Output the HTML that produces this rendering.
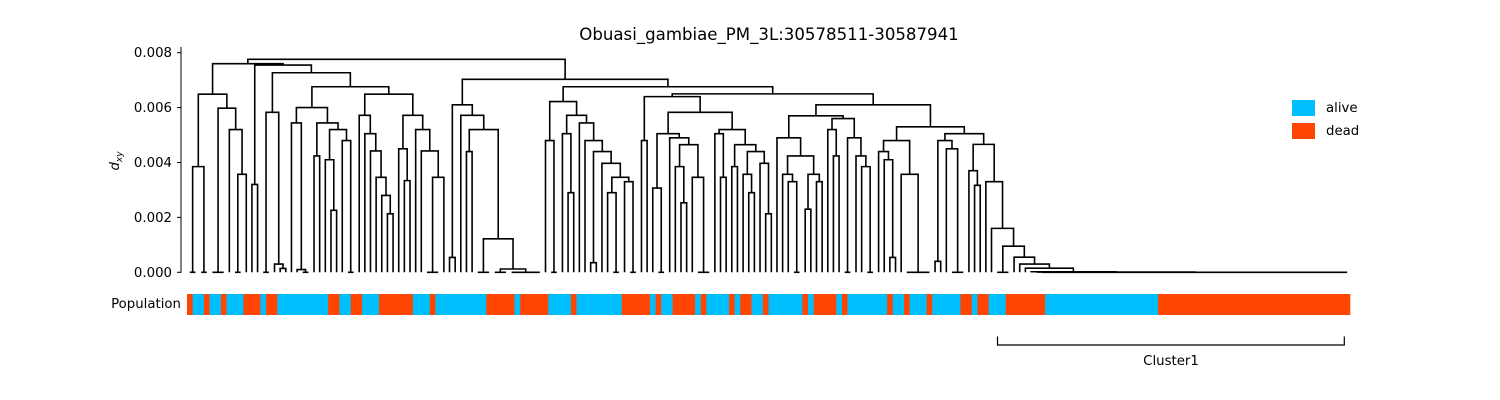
<!DOCTYPE html>
<html><head><meta charset="utf-8"><style>
body{margin:0;background:#fff;}
svg{display:block;font-family:"DejaVu Sans","Liberation Sans",sans-serif;}
</style></head><body>
<svg id="chart" width="1500" height="400" viewBox="0 0 1500 400" xmlns="http://www.w3.org/2000/svg">
<rect x="0" y="0" width="1500" height="400" fill="#fff"/>
<text x="769" y="40" font-size="16.6" text-anchor="middle" fill="#000">Obuasi_gambiae_PM_3L:30578511-30587941</text>
<g id="axis"></g>
<g id="tree" fill="none" stroke="#000" stroke-width="1.6"></g>
<g id="popbar"></g>
<text x="181" y="308" font-size="13.3" text-anchor="end" fill="#000">Population</text>
<g>
<rect x="1292" y="100" width="23" height="16" fill="#00BFFF"/>
<text x="1326" y="112" font-size="13.3" fill="#000">alive</text>
<rect x="1292" y="123" width="23" height="16" fill="#FF4500"/>
<text x="1326" y="135" font-size="13.3" fill="#000">dead</text>
</g>
<g>
<path d="M997.5,336.5 V345 H1344.3 V336.5" fill="none" stroke="#000" stroke-width="1.2"/>
<text x="1171" y="365" font-size="13.3" text-anchor="middle" fill="#000">Cluster1</text>
</g>
</svg>
<script>
// y ticks (units of 1e-3)
const yTicks = [0, 2, 4, 6, 8];
const yTickLabels = ["0.000", "0.002", "0.004", "0.006", "0.008"];
// population run lengths, alternating starting with dead
const popLabels = ["dead","alive","dead","alive","dead","alive","dead","alive","dead","alive","dead","alive","dead","alive","dead","alive","dead","alive","dead","alive","dead","alive","dead","alive","dead","alive","dead","alive","dead","alive","dead","alive","dead","alive","dead","alive","dead","alive","dead","alive","dead","alive","dead","alive","dead","alive","dead","alive","dead","alive","dead","alive","dead","alive","dead","alive","dead"];
const popCounts = [1,2,1,2,1,3,3,1,2,9,2,2,2,3,6,3,1,9,5,1,5,4,1,8,5,1,1,2,4,1,1,4,1,1,2,2,1,6,1,1,4,1,1,7,1,2,1,3,1,5,2,1,2,3,7,20,34];
// dendrogram: [height(1e-3), left, right]; integer = zero-height clump of n leaves
const treeLeft = [7.6,
  [6.49,[3.85,2,2],[5.98,3,[5.2,1,[3.57,2,1]]]],
  [7.55,[3.2,1,1],
    [7.27,
      [5.83,2,[0.3,1,[0.14,1,1]]],
      [6.76,
        [6.0,[5.44,1,[0.1,1,2]],[5.44,[4.24,1,1],[5.2,[4.1,1,[2.26,1,1]],[4.8,1,2]]]],
        [6.49,
          [5.72,1,[5.05,1,[4.42,1,[3.46,1,[2.8,1,[2.13,1,1]]]]]],
          [5.72,[4.5,1,[3.34,1,1]],[5.2,1,[4.42,1,[3.46,3,1]]]]]]]]];
const tailChain = [0.15,1,[0.02,1,[0.01,1,55]]];
const subW = [4.66,[3.7,1,[3.17,1,1]],[3.3,1,[1.6,1,[0.95,3,[0.55,1,[0.3,1,tailChain]]]]]];
const subV2 = [5.05,[4.8,[0.4,1,1],[4.5,1,3]],subW];
const subV1 = [4.8,[4.4,1,[4.1,1,[0.54,1,1]]],[3.57,1,5]];
const subU1 = [4.9,1,[4.24,[3.57,1,[3.3,1,2]],[3.57,[2.3,1,1],[3.3,1,1]]]];
const subU2 = [5.6,[5.2,1,[4.24,1,1]],[4.9,2,[4.24,1,[3.85,1,2]]]];
const subT1a = [5.05,[3.07,1,2],[4.9,1,[4.65,[3.85,1,[2.53,1,1]],[3.46,1,3]]]];
const subT1b = [5.2,[5.05,1,[3.46,1,1]],[4.65,[3.85,1,1],[4.4,[3.57,1,[2.9,1,1]],[3.97,1,[2.13,1,1]]]]];
const subS = [6.22,[4.8,1,2],[5.72,[5.05,1,[2.9,1,1]],[5.44,1,[4.8,1,[4.4,[0.35,1,1],[3.97,1,[3.46,[2.9,1,2],[3.3,1,2]]]]]]]];
const subR1 = [6.1,[0.54,1,1],[5.72,1,[5.2,[4.4,1,1],[1.22,3,[0.12,3,6]]]]];
const treeRight = [7.03, subR1,
  [6.76, subS,
    [6.5, [6.4,[4.8,1,1],[5.83, subT1a, subT1b]],
      [6.1, [5.7, subU1, subU2], [5.3, subV1, subV2]]]]];
const rootHeight = 7.76;

const NS = "http://www.w3.org/2000/svg";
const X0 = 187, X1 = 1350;
function countLeaves(n){ return typeof n === "number" ? n : countLeaves(n[1]) + countLeaves(n[2]); }
const N = countLeaves(treeLeft) + countLeaves(treeRight);
const W = (X1 - X0) / N;
function xLeaf(i){ return X0 + (i + 0.5) * W; }
function yScale(h){ return 272.3 - h * 27.45; }

// axis
const ax = document.getElementById("axis");
const spine = document.createElementNS(NS, "line");
spine.setAttribute("x1", 181); spine.setAttribute("x2", 181);
spine.setAttribute("y1", 47); spine.setAttribute("y2", 272.8);
spine.setAttribute("stroke", "#000"); spine.setAttribute("stroke-width", "1");


ax.appendChild(spine);
yTicks.forEach((t, i) => {
  const y = yScale(t);
  const tk = document.createElementNS(NS, "line");
  tk.setAttribute("x1", 177); tk.setAttribute("x2", 181);
  tk.setAttribute("y1", y); tk.setAttribute("y2", y);
  tk.setAttribute("stroke", "#000");
  
  
  ax.appendChild(tk);
  const lb = document.createElementNS(NS, "text");
  lb.setAttribute("x", 172); lb.setAttribute("y", y + 4.5);
  lb.setAttribute("font-size", "13.3"); lb.setAttribute("text-anchor", "end");
  lb.textContent = yTickLabels[i];
  
  
  ax.appendChild(lb);
});
const yt = document.createElementNS(NS, "text");
yt.setAttribute("transform", "translate(119,161) rotate(-90)");
yt.setAttribute("font-size", "13.3"); yt.setAttribute("text-anchor", "middle");
yt.innerHTML = '<tspan font-style="italic">d</tspan><tspan font-size="9" dy="3" font-style="italic">xy</tspan>';


ax.appendChild(yt);

// tree
const tg = document.getElementById("tree");
let cursor = 0;
function addPath(d, name){
  const p = document.createElementNS(NS, "path");
  p.setAttribute("d", d);
  
  
  tg.appendChild(p);
}
function layout(n){
  if (typeof n === "number"){
    const a = cursor, b = cursor + n - 1;
    cursor += n;
    if (n > 1) addPath("M" + xLeaf(a) + "," + yScale(0) + " H" + xLeaf(b), "leaf-cluster");
    return {x: (xLeaf(a) + xLeaf(b)) / 2, h: 0};
  }
  const L = layout(n[1]), R = layout(n[2]);
  const y = yScale(n[0]);
  addPath("M" + L.x + "," + yScale(L.h) + " V" + y + " H" + R.x + " V" + yScale(R.h), "link");
  return {x: (L.x + R.x) / 2, h: n[0]};
}
const A = layout(treeLeft), B = layout(treeRight);
addPath("M" + A.x + "," + yScale(A.h) + " V" + yScale(rootHeight) + " H" + B.x + " V" + yScale(B.h), "root-link");

// population bar
const pb = document.getElementById("popbar");
let idx = 0;
popCounts.forEach((c, i) => {
  const r = document.createElementNS(NS, "rect");
  r.setAttribute("x", X0 + idx * W);
  r.setAttribute("y", 294);
  r.setAttribute("width", c * W + 0.3);
  r.setAttribute("height", 21);
  r.setAttribute("fill", popLabels[i] === "alive" ? "#00BFFF" : "#FF4500");
  
  
  pb.appendChild(r);
  idx += c;
});
</script>
</body></html>
